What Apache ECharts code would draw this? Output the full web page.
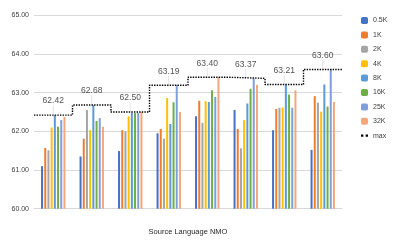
<!DOCTYPE html>
<html>
<head>
<meta charset="utf-8">
<script src="https://cdn.jsdelivr.net/npm/echarts@6/dist/echarts.min.js"></script>
<style>html,body{margin:0;padding:0;background:#fff;}#c{width:397px;height:245px;}</style>
</head>
<body>
<div id="c"></div>
<script>
var categories = ['1', '2', '3', '4', '5', '6', '7', '8'];
var seriesNames = ['0.5K', '1K', '2K', '4K', '8K', '16K', '25K', '32K'];
var s05K = [61.10, 61.35, 61.49, 61.95, 62.39, 62.55, 62.03, 61.52];
var s1K  = [61.57, 61.81, 62.03, 62.06, 62.79, 62.06, 62.58, 62.91];
var s2K  = [61.51, 62.55, 62.00, 61.81, 62.22, 61.56, 62.61, 62.74];
var s4K  = [62.10, 62.03, 62.39, 62.86, 62.78, 62.29, 62.62, 62.51];
var s8K  = [62.42, 62.68, 62.48, 62.19, 62.76, 62.72, 63.21, 63.21];
var s16K = [62.12, 62.27, 62.47, 62.75, 63.06, 63.10, 62.95, 62.64];
var s25K = [62.29, 62.34, 62.48, 63.19, 62.89, 63.37, 62.61, 63.60];
var s32K = [62.37, 62.12, 62.50, 62.50, 63.40, 63.20, 63.06, 62.76];
var maxVals = [62.42, 62.68, 62.50, 63.19, 63.40, 63.37, 63.21, 63.60];
var yTicks = [60, 61, 62, 63, 64, 65];
var xTitle = 'Source Language NMO';

var colors = ['#4472C4', '#ED7D31', '#A5A5A5', '#FFC000', '#5B9BD5', '#70AD47', '#7F9FDA', '#F4A77B'];
var allSeries = [s05K, s1K, s2K, s4K, s8K, s16K, s25K, s32K];

var series = allSeries.map(function (d, i) {
  return {
    name: seriesNames[i], type: 'bar', data: d,
    xAxisIndex: 0, yAxisIndex: 0,
    barWidth: 2, barGap: '60%',
    itemStyle: { color: colors[i] },
    emphasis: { disabled: true }
  };
});

var stepData = maxVals.map(function (v, i) { return [i, v]; });
stepData.push([maxVals.length, maxVals[maxVals.length - 1]]);

series.push({
  name: 'max', type: 'line', step: 'end', data: stepData,
  xAxisIndex: 1, yAxisIndex: 0, symbol: 'none', z: 5,
  lineStyle: { color: '#000', width: 1.4, type: [1.4, 1.2] },
  itemStyle: { color: '#000' }
});

series.push({
  name: 'maxLabel', type: 'scatter', data: maxVals,
  xAxisIndex: 0, yAxisIndex: 0, z: 4,
  symbol: 'rect', symbolSize: [0.7, 9], symbolOffset: [0, -5],
  itemStyle: { color: '#D0D0D0' },
  label: {
    show: true, position: 'top', distance: 0,
    fontSize: 8.5, color: '#262626', fontFamily: 'Liberation Sans',
    formatter: function (p) { return p.value.toFixed(2); }
  },
  emphasis: { disabled: true }
});

var chart = echarts.init(document.getElementById('c'), null, { renderer: 'canvas' });
chart.setOption({
  animation: false,
  backgroundColor: '#fff',
  textStyle: { fontFamily: 'Liberation Sans' },
  grid: { left: 34, right: 55, top: 15.3, bottom: 36.3 },
  legend: {
    orient: 'vertical', left: 356, top: 12,
    itemWidth: 7, itemHeight: 7, itemGap: 7.4,
    textStyle: { fontSize: 7, color: '#404040', fontFamily: 'Liberation Sans' },
    data: seriesNames.concat([{ name: 'max', icon: 'path://M0,0h2v2h-2z M4,0h2v2h-2z' }])
  },
  xAxis: [
    {
      type: 'category', data: categories,
      axisLine: { show: true, lineStyle: { color: '#D9D9D9', width: 1 } },
      axisTick: { show: false }, axisLabel: { show: false },
      name: xTitle, nameLocation: 'middle', nameGap: 19,
      nameTextStyle: { fontSize: 7.5, color: '#262626', fontFamily: 'Liberation Sans' }
    },
    { type: 'value', min: 0, max: categories.length, show: false }
  ],
  yAxis: {
    type: 'value', min: yTicks[0], max: yTicks[yTicks.length - 1], interval: 1,
    axisLine: { show: false }, axisTick: { show: false },
    axisLabel: { fontSize: 7, color: '#404040', margin: 5,
      formatter: function (v) { return v.toFixed(2); } },
    splitLine: { lineStyle: { color: '#D9D9D9', width: 1 } }
  },
  series: series
});
</script>
</body>
</html>
